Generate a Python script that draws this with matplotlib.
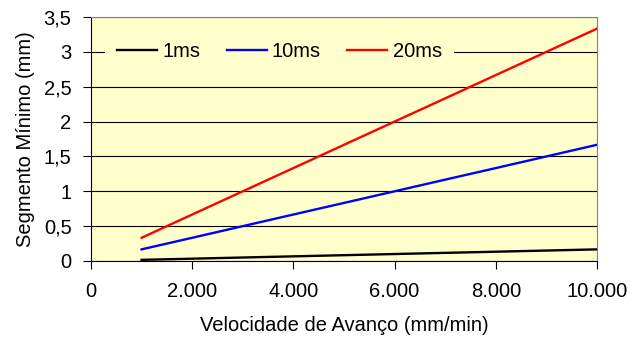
import matplotlib.pyplot as plt
from matplotlib.ticker import FuncFormatter

plt.rcParams['font.family'] = ['Liberation Sans', 'DejaVu Sans']

# velocidade de avanço (mm/min)
vel = [1000, 2000, 3000, 4000, 5000, 6000, 7000, 8000, 9000, 10000]
# segmento mínimo (mm) para cada tempo de ciclo
seg_1ms = [0.0167, 0.0333, 0.05, 0.0667, 0.0833, 0.1, 0.1167, 0.1333, 0.15, 0.1667]
seg_10ms = [0.167, 0.333, 0.5, 0.667, 0.833, 1.0, 1.167, 1.333, 1.5, 1.667]
seg_20ms = [0.333, 0.667, 1.0, 1.333, 1.667, 2.0, 2.333, 2.667, 3.0, 3.333]

fs = 14.5
fig = plt.figure(figsize=(6.3, 3.38), dpi=100)
ax = fig.add_axes([91 / 630, 1 - 261 / 338, (597 - 91) / 630, (261 - 17) / 338])
ax.set_facecolor('#ffffcc')

ax.plot(vel, seg_1ms, color='black', lw=1.7, label='1ms')
ax.plot(vel, seg_10ms, color='blue', lw=1.7, label='10ms')
ax.plot(vel, seg_20ms, color='red', lw=1.7, label='20ms')

ax.set_xlim(0, 10000)
ax.set_ylim(0, 3.5)
ax.set_xticks(range(0, 10001, 2000))
ax.set_yticks([0, 0.5, 1, 1.5, 2, 2.5, 3, 3.5])
ax.xaxis.set_major_formatter(FuncFormatter(lambda v, p: f'{int(v):,}'.replace(',', '.')))
ax.yaxis.set_major_formatter(FuncFormatter(lambda v, p: f'{v:g}'.replace('.', ',')))
ax.yaxis.grid(True, color='black', lw=0.8)
ax.set_axisbelow(True)
ax.tick_params(labelsize=fs, length=6, width=0.8)
ax.tick_params(axis='x', pad=9)
ax.tick_params(axis='y', pad=8)

for s in ['top', 'right']:
    ax.spines[s].set_color('#808080')
for s in ['left', 'bottom']:
    ax.spines[s].set_color('black')

ax.set_xlabel('Velocidade de Avanço (mm/min)', fontsize=fs)
ax.set_ylabel('Segmento Mínimo (mm)', fontsize=fs)
ax.xaxis.set_label_coords(0.5, -0.225)
ax.yaxis.set_label_coords(-0.11, 0.5)

leg = ax.legend(loc='center left', bbox_to_anchor=(0.0277, 3 / 3.5), ncol=3, frameon=True,
                fontsize=fs, handlelength=2.0, columnspacing=1.3, borderaxespad=0,
                handletextpad=0.25, borderpad=0.6)
leg.get_frame().set_facecolor('#ffffcc')
leg.get_frame().set_edgecolor('none')
leg.get_frame().set_alpha(1)
leg.get_frame().set_boxstyle('square', pad=0)

fig.savefig('out.png', dpi=100)
